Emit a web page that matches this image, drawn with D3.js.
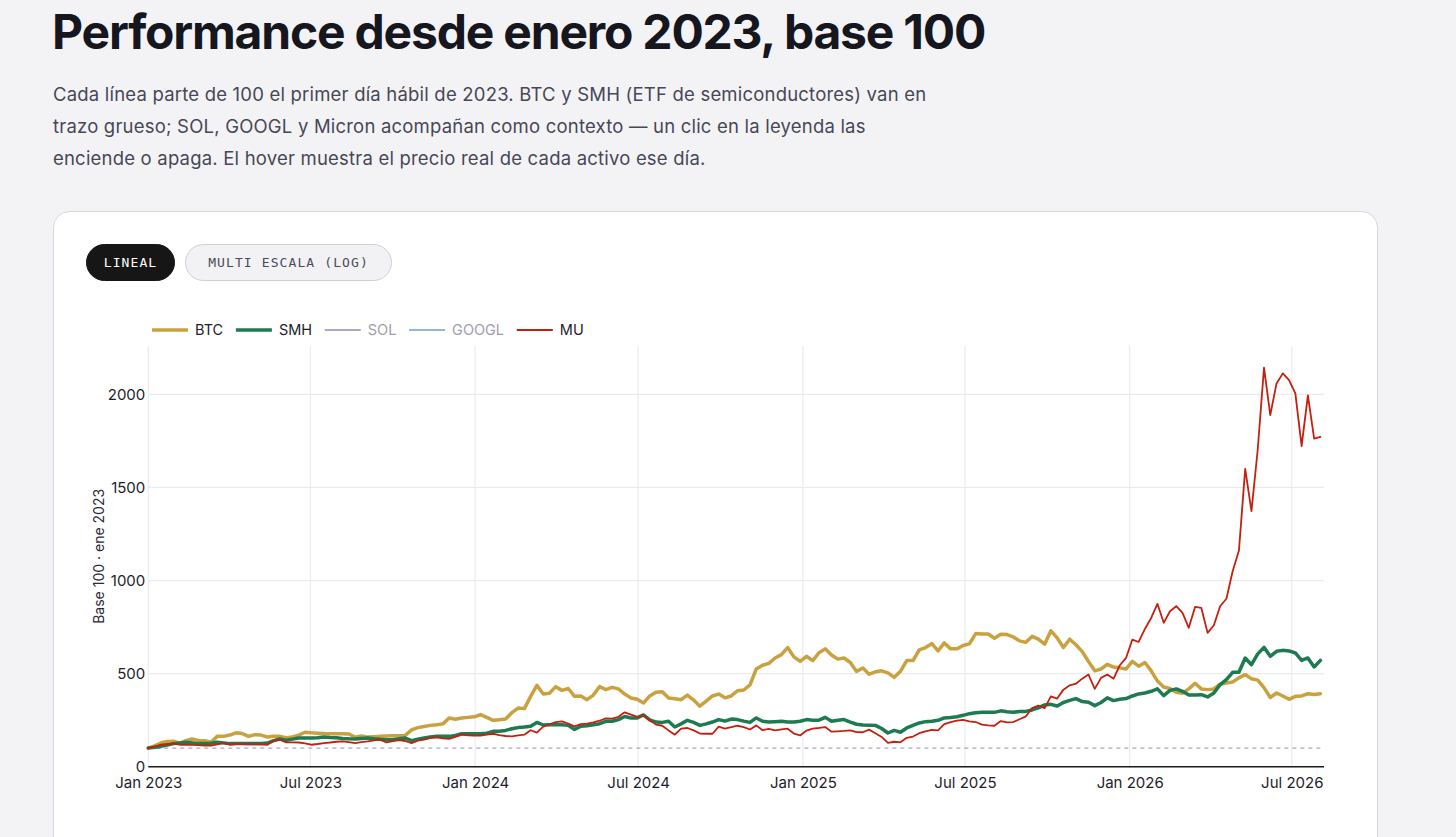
<!DOCTYPE html>
<html>
<head>
<meta charset="utf-8">
<script src="https://cdn.jsdelivr.net/npm/d3@7"></script>
<style>
  html, body { margin: 0; padding: 0; background: #f3f3f5; overflow: hidden; }
  svg text { font-family: Inter, "Noto Sans", sans-serif; }
</style>
</head>
<body>
<svg id="page" width="1456" height="837"></svg>
<script>
// weekly closes, base 100 = first week of 2023
var startDate = new Date(2023, 0, 1)

var btc = [
  100, 112, 127, 136, 137, 126, 140, 149, 140, 140,
  131, 163, 163, 170, 182, 178, 163, 172, 170, 159,
  163, 163, 156, 160, 170, 185, 182, 180, 178, 177,
  177, 177, 176, 159, 165, 159, 161, 163, 165, 166,
  166, 168, 198, 210, 216, 222, 225, 230, 262, 255,
  262, 265, 268, 280, 265, 249, 252, 256, 290, 315,
  312, 378, 437, 390, 395, 430, 410, 420, 378, 380,
  360, 385, 430, 414, 426, 418, 390, 369, 362, 342,
  380, 400, 403, 369, 365, 360, 385, 358, 325, 352,
  380, 390, 370, 380, 408, 412, 440, 525, 545, 555,
  584, 602, 640, 590, 566, 593, 570, 612, 633, 600,
  578, 584, 560, 512, 530, 497, 510, 515, 504, 480,
  512, 570, 570, 628, 640, 661, 622, 665, 633, 633,
  651, 660, 715, 713, 713, 690, 712, 710, 697, 676,
  668, 700, 685, 658, 730, 692, 640, 685, 655, 618,
  565, 515, 525, 550, 535, 531, 525, 566, 540, 560,
  515, 460, 428, 420, 400, 395, 418, 448, 418, 414,
  418, 443, 450, 455, 477, 495, 472, 465, 425, 372,
  396, 380, 362, 378, 380, 392, 388, 392
]

var smh = [
  100, 104, 109, 116, 124, 128, 131, 128, 124, 124,
  126, 131, 128, 124, 124, 124, 124, 124, 124, 127,
  140, 149, 142, 148, 154, 154, 154, 155, 159, 157,
  156, 152, 150, 149, 152, 154, 150, 147, 145, 145,
  150, 154, 140, 148, 154, 160, 163, 163, 163, 168,
  177, 177, 177, 177, 180, 190, 190, 195, 204, 210,
  213, 217, 238, 224, 225, 225, 225, 222, 200, 217,
  220, 225, 231, 244, 244, 253, 270, 262, 262, 278,
  252, 240, 238, 244, 213, 230, 249, 238, 222, 230,
  240, 253, 245, 256, 253, 245, 238, 262, 244, 240,
  242, 244, 240, 240, 244, 253, 250, 250, 265, 244,
  250, 253, 240, 228, 224, 223, 222, 205, 181, 195,
  185, 208, 222, 235, 242, 244, 249, 262, 264, 268,
  276, 285, 290, 292, 292, 292, 300, 295, 292, 297,
  297, 305, 316, 332, 335, 326, 345, 356, 366, 350,
  346, 328, 345, 370, 355, 362, 366, 380, 391, 396,
  405, 418, 382, 410, 418, 405, 385, 385, 387, 375,
  396, 441, 468, 507, 507, 584, 548, 606, 641, 593,
  620, 625, 622, 611, 571, 584, 536, 571
]

var mu = [
  100, 108, 118, 122, 124, 118, 118, 117, 116, 114,
  113, 120, 127, 118, 122, 121, 120, 120, 120, 118,
  140, 145, 131, 131, 130, 125, 118, 122, 127, 130,
  134, 136, 132, 127, 132, 136, 142, 145, 131, 138,
  143, 138, 127, 140, 145, 155, 158, 152, 149, 160,
  172, 168, 167, 167, 172, 177, 170, 165, 163, 168,
  172, 196, 183, 215, 228, 240, 244, 232, 217, 229,
  231, 238, 247, 260, 258, 268, 292, 280, 268, 275,
  250, 226, 220, 195, 172, 205, 208, 195, 178, 177,
  177, 215, 205, 212, 220, 213, 200, 222, 196, 203,
  195, 200, 204, 178, 168, 194, 205, 208, 213, 188,
  190, 192, 195, 186, 185, 199, 180, 160, 128, 134,
  131, 155, 162, 180, 190, 198, 195, 229, 240, 248,
  252, 244, 240, 226, 222, 220, 245, 238, 240, 255,
  270, 315, 328, 315, 378, 366, 414, 437, 446, 473,
  495, 418, 477, 495, 473, 545, 585, 683, 670, 740,
  799, 875, 773, 835, 862, 826, 746, 858, 853, 719,
  760, 862, 902, 1050, 1161, 1600, 1373, 1704, 2144, 1889,
  2059, 2113, 2077, 2005, 1722, 1995, 1762, 1772
]

var baseValue = 100
var yTicks = [0, 500, 1000, 1500, 2000]
var legendNames = ['BTC', 'SMH', 'SOL', 'GOOGL', 'MU']
var legendOn = [true, true, false, false, true]
var modes = ['LINEAL', 'MULTI ESCALA (LOG)']
var subtitleLines = [
  'Cada línea parte de 100 el primer día hábil de 2023. BTC y SMH (ETF de semiconductores) van en',
  'trazo grueso; SOL, GOOGL y Micron acompañan como contexto — un clic en la leyenda las',
  'enciende o apaga. El hover muestra el precio real de cada activo ese día.'
]

var colors = { BTC: '#c9a23f', SMH: '#1e7a50', SOL: '#aaa8c6', GOOGL: '#95b5da', MU: '#c4200f' }
var widths = { BTC: 3.5, SMH: 3.5, SOL: 2, GOOGL: 2, MU: 1.8 }

var weeks = btc.map(function(d, i) {
  return d3.timeDay.offset(startDate, 7 * i)
})
var series = [
  { key: 'BTC', values: btc },
  { key: 'SMH', values: smh },
  { key: 'MU', values: mu }
]

var svg = d3.select('#page')

// header
svg.append('text')
  .attr('x', 52)
  .attr('y', 49)
  .attr('fill', '#16161f')
  .style('font-size', '48px')
  .style('font-weight', 700)
  .style('letter-spacing', '-1.2px')
  .text('Performance desde enero 2023, base 100')

svg.selectAll('text.sub')
  .data(subtitleLines)
  .enter()
  .append('text')
  .attr('class', 'sub')
  .attr('x', 53)
  .attr('y', function(d, i) { return 101 + i * 32 })
  .attr('fill', '#474757')
  .style('font-size', '18.5px')
  .style('letter-spacing', '0.2px')
  .text(function(d) { return d })

// card
svg.append('rect')
  .attr('x', 53.5)
  .attr('y', 211.5)
  .attr('width', 1324)
  .attr('height', 720)
  .attr('rx', 16)
  .attr('fill', '#fff')
  .attr('stroke', '#d7d7dd')

// mode buttons
var btnX = [86, 185],
  btnW = [89, 207]
var btn = svg.selectAll('g.btn')
  .data(modes)
  .enter()
  .append('g')
  .attr('class', 'btn')
  .attr('transform', function(d, i) { return 'translate(' + btnX[i] + ',244)' })
btn.append('rect')
  .attr('x', 0.5)
  .attr('y', 0.5)
  .attr('width', function(d, i) { return btnW[i] - 1 })
  .attr('height', 36)
  .attr('rx', 18)
  .attr('fill', function(d, i) { return i === 0 ? '#161616' : '#f2f2f5' })
  .attr('stroke', function(d, i) { return i === 0 ? '#161616' : '#cfcfd8' })
btn.append('text')
  .attr('x', function(d, i) { return btnW[i] / 2 })
  .attr('y', 18.5)
  .attr('dy', '0.35em')
  .attr('text-anchor', 'middle')
  .attr('fill', function(d, i) { return i === 0 ? '#fff' : '#4a4a58' })
  .style('font-family', '"DejaVu Sans Mono", monospace')
  .style('font-size', '13px')
  .style('letter-spacing', '1.1px')
  .text(function(d) { return d })

// chart area
var margin = { left: 148.3, right: 1324, top: 346, bottom: 766.7 }
var x = d3.scaleTime()
  .domain([startDate, new Date(2026, 7, 6)])
  .range([margin.left, margin.right])
var y = d3.scaleLinear()
  .domain([0, 2260])
  .range([margin.bottom, margin.top])

var xTicks = x.ticks(d3.timeMonth.every(6))

var grid = svg.append('g').attr('class', 'grid')
grid.selectAll('line.v')
  .data(xTicks)
  .enter()
  .append('line')
  .attr('x1', function(d) { return x(d) })
  .attr('x2', function(d) { return x(d) })
  .attr('y1', margin.top)
  .attr('y2', margin.bottom)
  .attr('stroke', '#ebebef')
  .attr('stroke-width', 1.2)
grid.selectAll('line.h')
  .data(yTicks.filter(function(d) { return d > 0 }))
  .enter()
  .append('line')
  .attr('x1', margin.left)
  .attr('x2', margin.right)
  .attr('y1', function(d) { return y(d) })
  .attr('y2', function(d) { return y(d) })
  .attr('stroke', '#ebebef')
  .attr('stroke-width', 1.2)

// base 100 reference
svg.append('line')
  .attr('x1', margin.left)
  .attr('x2', margin.right)
  .attr('y1', y(baseValue))
  .attr('y2', y(baseValue))
  .attr('stroke', '#a9a8c6')
  .attr('stroke-width', 1.4)
  .attr('stroke-dasharray', '4 4')

var yAxis = svg.append('g')
  .attr('transform', 'translate(' + margin.left + ',0)')
  .call(d3.axisLeft(y).tickValues(yTicks).tickFormat(d3.format('d')).tickSize(0).tickPadding(3))
yAxis.select('.domain').remove()
yAxis.selectAll('text')
  .attr('fill', '#1d1d2b')
  .style('font-size', '15px')
  .style('font-family', 'Inter, sans-serif')

var xAxis = svg.append('g')
  .attr('transform', 'translate(0,' + margin.bottom + ')')
  .call(d3.axisBottom(x).tickValues(xTicks).tickFormat(d3.timeFormat('%b %Y')).tickSize(0).tickPadding(11))
xAxis.select('.domain')
  .attr('d', 'M' + margin.left + ',0H' + margin.right)
  .attr('stroke', '#1a1a1a')
  .attr('stroke-width', 1.5)
xAxis.selectAll('text')
  .attr('fill', '#1d1d2b')
  .style('font-size', '15px')
  .style('font-family', 'Inter, sans-serif')

svg.append('text')
  .attr('transform', 'translate(104,' + (margin.top + margin.bottom) / 2 + ') rotate(-90)')
  .attr('text-anchor', 'middle')
  .attr('fill', '#2a2a36')
  .style('font-size', '14px')
  .text('Base 100 · ene 2023')

// lines
var line = d3.line()
  .x(function(d, i) { return x(weeks[i]) })
  .y(function(d) { return y(d) })

svg.append('g')
  .selectAll('path')
  .data(series)
  .enter()
  .append('path')
  .attr('d', function(d) { return line(d.values) })
  .attr('fill', 'none')
  .attr('stroke', function(d) { return colors[d.key] })
  .attr('stroke-width', function(d) { return widths[d.key] })
  .attr('stroke-linejoin', 'round')
  .attr('stroke-linecap', 'round')

// legend
var legend = svg.append('g').attr('transform', 'translate(0,330)')
var cursor = 152
legendNames.forEach(function(name, i) {
  legend.append('line')
    .attr('x1', cursor)
    .attr('x2', cursor + 36)
    .attr('stroke', colors[name])
    .attr('stroke-width', name === 'BTC' || name === 'SMH' ? 3.4 : 2)
  var t = legend.append('text')
    .attr('x', cursor + 43)
    .attr('dy', '0.35em')
    .attr('fill', legendOn[i] ? '#1d1d2b' : '#9e9eab')
    .style('font-size', '14.5px')
    .text(name)
  cursor += 43 + t.node().getComputedTextLength() + 12.7
})
</script>
</body>
</html>
